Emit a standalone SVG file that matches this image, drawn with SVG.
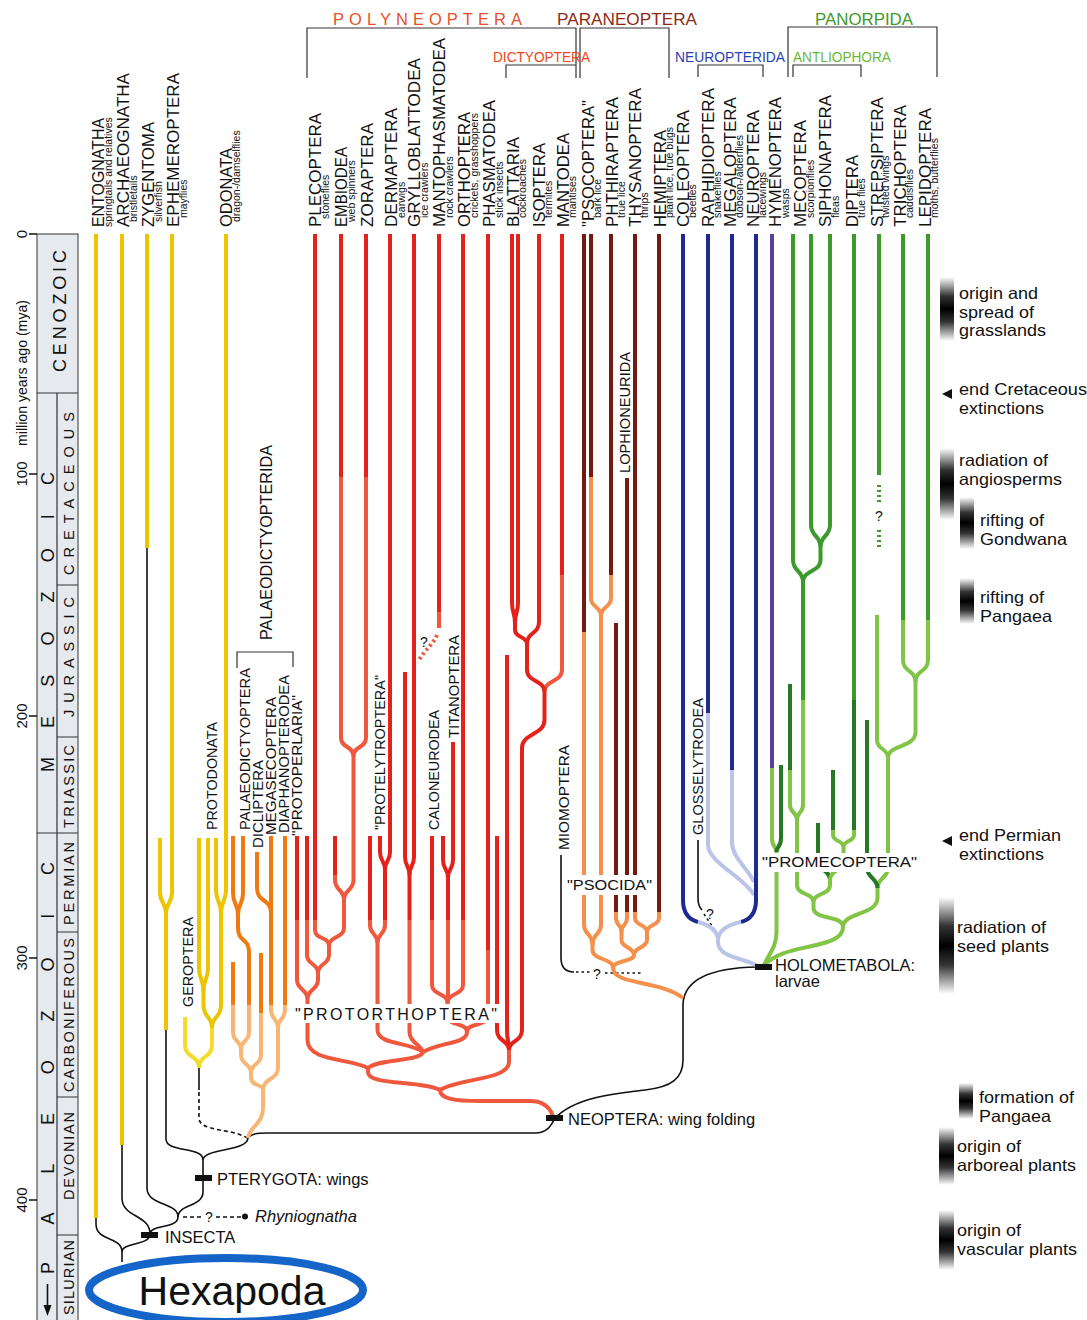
<svg xmlns="http://www.w3.org/2000/svg" width="1087" height="1320" viewBox="0 0 1087 1320">
<defs>
<style>
text{font-family:"Liberation Sans",Arial,sans-serif;fill:#111}
.lab{font-size:16.5px}
.sub{font-size:10.5px}
.in{font-size:15px}
.ann{font-size:16.5px}
.era{font-size:18px}
.per{font-size:14.5px}
.num{font-size:15px}
path{fill:none;stroke-width:4}
.y{stroke:#ecc400}.yl{stroke:#f4dc2c}.o{stroke:#ef7a12}.ol{stroke:#f7b676}
.r{stroke:#e3231b}.rl{stroke:#f0583e}.br{stroke:#741a10}.po{stroke:#f4904c}
.bl{stroke:#1d2a92}.bll{stroke:#b9c4e6}.pu{stroke:#5a3e9c}
.g{stroke:#3c9a2b}.gl{stroke:#82c445}.gd{stroke:#277822}
.k{stroke:#111;stroke-width:1.6}
.kd{stroke:#111;stroke-width:1.6;stroke-dasharray:4 3}
.kdot{stroke:#111;stroke-width:1.6;stroke-dasharray:2.5 3}
.brk{stroke:#333;stroke-width:1.2}
.tri{fill:#111;stroke:none}
.q{font-size:14px}
</style>
<linearGradient id="fade" x1="0" y1="0" x2="0" y2="1">
<stop offset="0" stop-color="#fff"/><stop offset="0.3" stop-color="#333"/><stop offset="0.5" stop-color="#000"/><stop offset="0.7" stop-color="#333"/><stop offset="1" stop-color="#fff"/>
</linearGradient>
</defs>
<rect width="1087" height="1320" fill="#fff"/>

<g id="timescale">
<rect x="37" y="234" width="41" height="1090" fill="#e6e9ee" stroke="#333" stroke-width="1"/>
<path class="brk" d="M57 393V1320M37 393H78M57 585H78M57 737H78M37 833H78M57 932H78M57 1097H78M57 1235H78"/>
<path class="k" d="M29 234H37M29 474H37M29 716H37M29 958H37M29 1200H37" style="stroke-width:1.4"/>
<text class="num" transform="translate(27,234) rotate(-90)" text-anchor="middle">0</text>
<text class="num" transform="translate(27,474) rotate(-90)" text-anchor="middle">100</text>
<text class="num" transform="translate(27,716) rotate(-90)" text-anchor="middle">200</text>
<text class="num" transform="translate(27,958) rotate(-90)" text-anchor="middle">300</text>
<text class="num" transform="translate(27,1200) rotate(-90)" text-anchor="middle">400</text>
<text class="num" transform="translate(27,446) rotate(-90)" textLength="146" lengthAdjust="spacingAndGlyphs">million years ago (mya)</text>
<text class="era" transform="translate(66,372) rotate(-90)" textLength="122" lengthAdjust="spacing">CENOZOIC</text>
<text class="era" transform="translate(54,772) rotate(-90)" textLength="300" lengthAdjust="spacing">MESOZOIC</text>
<text class="era" transform="translate(54,1274) rotate(-90)" textLength="412" lengthAdjust="spacing">PALEOZOIC</text>
<path class="k" d="M47.5 1284V1306"/>
<path class="tri" d="M43.5 1305L51.5 1305L47.5 1316Z"/>
<text class="per" transform="translate(74,575) rotate(-90)" textLength="163" lengthAdjust="spacing">CRETACEOUS</text>
<text class="per" transform="translate(74,717) rotate(-90)" textLength="120" lengthAdjust="spacing">JURASSIC</text>
<text class="per" transform="translate(74,828) rotate(-90)" textLength="83" lengthAdjust="spacing">TRIASSIC</text>
<text class="per" transform="translate(74,925) rotate(-90)" textLength="83" lengthAdjust="spacing">PERMIAN</text>
<text class="per" transform="translate(74,1092) rotate(-90)" textLength="154" lengthAdjust="spacing">CARBONIFEROUS</text>
<text class="per" transform="translate(74,1200) rotate(-90)" textLength="88" lengthAdjust="spacing">DEVONIAN</text>
<text class="per" transform="translate(74,1315) rotate(-90)" textLength="75" lengthAdjust="spacing">SILURIAN</text>
</g>

<g id="groups">
<path class="brk" d="M307 78V28H576V78M506 78V65H576M580 78V28H669V78M698 77V65H763V77M788 77V27H937V77M793 77V65H861V77M237 668V652H293V667"/>
<text x="333" y="25" font-size="16.5" style="fill:#e8502a" textLength="189" lengthAdjust="spacing">POLYNEOPTERA</text>
<text x="557" y="25" font-size="16.5" style="fill:#8c2a14" textLength="140" lengthAdjust="spacingAndGlyphs">PARANEOPTERA</text>
<text x="815" y="25" font-size="16.5" style="fill:#3f9a2a" textLength="98" lengthAdjust="spacingAndGlyphs">PANORPIDA</text>
<text x="493" y="62" font-size="14" style="fill:#ee4420" textLength="97" lengthAdjust="spacingAndGlyphs">DICTYOPTERA</text>
<text x="675" y="62" font-size="14" style="fill:#2a40b0" textLength="110" lengthAdjust="spacingAndGlyphs">NEUROPTERIDA</text>
<text x="793" y="62" font-size="14" style="fill:#6cb83a" textLength="98" lengthAdjust="spacingAndGlyphs">ANTLIOPHORA</text>
</g>

<g id="connectors">
<path class="k" d="M96 1218V1224C96 1242 122 1236 122 1252V1262"/>
<path class="k" d="M122 1252C122 1242 150 1246 150 1234"/>
<path class="k" d="M122 1145V1198C122 1218 150 1214 150 1234"/>
<path class="k" d="M147 548V1188C147 1206 178 1202 178 1217"/>
<path class="k" d="M150 1234C150 1224 178 1229 178 1217"/>
<path class="k" d="M178 1217C178 1204 203 1207 203 1192V1160"/>
<path class="k" d="M203 1160C203 1146 166 1153 166 1139V1030"/>
<path class="k" d="M203 1160C203 1148 247 1152 248 1138"/>
<path class="k" d="M248 1138C251 1134 256 1133 268 1133H535C548 1133 551 1125 555 1118"/>
<path class="k" d="M199 1068V1090"/>
<path class="kd" d="M199 1092V1118C199 1132 232 1128 247 1138"/>
<path class="kd" d="M183 1217H203M216 1217H241"/>
<circle cx="245" cy="1216.5" r="3" fill="#111"/>
<path class="k" d="M555 1118C575 1098 610 1094 645 1090C672 1087 683 1078 683 1060V1004"/>
<path class="k" d="M683 1004C684 985 700 968 757 967"/>
<path class="k" d="M561 855V958C561 968 566 972 574 972"/>
<path class="kdot" d="M576 972H590M605 973H642"/>
<path class="k" d="M698 840V898C698 905 700 908 702 910"/>
<path class="kdot" d="M704 914L716 932"/>

<path class="y" d="M96 234V1218"/>
<path class="y" d="M122 234V1145"/>
<path class="y" d="M147 234V548"/>
<path class="y" d="M172 234V892C172 904 166 902 166 914"/>
<path class="y" d="M160 838V892C160 904 166 902 166 914"/>
<path class="y" d="M166 914V1030"/>
<path class="y" d="M226 234V890C226 902 221 901 221 913"/>
<path class="y" d="M216 838V890C216 902 221 901 221 913"/>
<path class="y" d="M221 913V1005C221 1018 212 1016 212 1028"/>
<path class="y" d="M199 838V968C199 980 203.5 979 203.5 991"/>
<path class="y" d="M208 838V968C208 980 203.5 979 203.5 991"/>
<path class="y" d="M203.5 991V1005C203.5 1018 212 1016 212 1028"/>
<path class="yl" d="M212 1028V1045C212 1058 199 1055 199 1068"/>
<path class="yl" d="M185 1017V1045C185 1058 199 1055 199 1068"/>

<path class="ol" d="M233 1005V1032C233 1042 241 1040 241 1050"/>
<path class="ol" d="M249 1005V1032C249 1042 241 1040 241 1050"/>
<path class="ol" d="M241 1050V1055C241 1065 251 1063 251 1073"/>
<path class="ol" d="M261 1013V1055C261 1065 251 1063 251 1073"/>
<path class="ol" d="M271 1005V1010C271 1020 278 1018 278 1028"/>
<path class="ol" d="M285 1005V1010C285 1020 278 1018 278 1028"/>
<path class="ol" d="M278 1028V1068C278 1080 263 1078 263 1090"/>
<path class="ol" d="M251 1073V1078C251 1086 263 1084 263 1090"/>
<path class="ol" d="M263 1090V1108C263 1124 250 1126 248 1138"/>
<path class="o" d="M233 836V893C233 905 238 903 238 915"/>
<path class="o" d="M243 836V893C243 905 238 903 238 915"/>
<path class="o" d="M238 915V928C238 942 249 938 249 952V1005"/>
<path class="o" d="M257 852V888C257 903 271 898 271 913"/>
<path class="o" d="M271 836V1005"/>
<path class="o" d="M285 836V1005"/>
<path class="o" d="M233 962V1005"/>
<path class="o" d="M261 953V1013"/>

<path class="rl" d="M315 920V930C315 940 329 936 329 946"/>
<path class="rl" d="M341 477V738C341 748 353.5 746 353.5 756"/>
<path class="rl" d="M366 477V738C366 748 353.5 746 353.5 756"/>
<path class="rl" d="M353.5 756V880C353.5 891 344 889 344 900"/>
<path class="rl" d="M335 875V880C335 891 344 889 344 900"/>
<path class="rl" d="M344 900V928C344 938 329 936 329 946"/>
<path class="rl" d="M307 920V955C307 965 318 963 318 973"/>
<path class="rl" d="M329 946V955C329 965 318 963 318 973"/>
<path class="rl" d="M297 920V980C297 990 307.5 989 307.5 999"/>
<path class="rl" d="M318 973V980C318 990 307.5 989 307.5 999"/>
<path class="rl" d="M307.5 999V1040C307.5 1062 350 1058 368 1068"/>
<path class="r" d="M315 234V920"/>
<path class="r" d="M341 234V477"/>
<path class="r" d="M366 234V477"/>
<path class="r" d="M335 836V875"/>
<path class="r" d="M307 836V920"/>
<path class="r" d="M297 836V920"/>

<path class="rl" d="M385 920V925C385 935 377.5 933 377.5 943"/>
<path class="rl" d="M370 920V925C370 935 377.5 933 377.5 943"/>
<path class="rl" d="M377.5 943V1030C377.5 1045 410 1042 423 1052"/>
<path class="r" d="M390 234V852C390 862 385 860 385 870"/>
<path class="r" d="M380 836V852C380 862 385 860 385 870"/>
<path class="r" d="M385 870V920"/>
<path class="r" d="M370 836V920"/>

<path class="rl" d="M409.5 920V1032C409.5 1042 420 1044 423 1052"/>
<path class="r" d="M414 234V857C414 867 409.5 865 409.5 875"/>
<path class="r" d="M405 672V857C405 867 409.5 865 409.5 875"/>
<path class="r" d="M409.5 875V920"/>
<path class="r" d="M439 234V612"/>
<path class="rl" d="M439 612V628"/>
<path class="rl" d="M437 635C433 645 424 650 418 662" style="stroke-dasharray:2.5 3"/>

<path class="rl" d="M432 920V985C432 995 447.5 993 447.5 1003"/>
<path class="rl" d="M448 920V1003"/>
<path class="rl" d="M463 920V985C463 995 447.5 993 447.5 1003"/>
<path class="rl" d="M447.5 1003V1015C447.5 1027 467 1022 467 1032"/>
<path class="rl" d="M488 950V1015C488 1027 467 1022 467 1032"/>
<path class="rl" d="M467 1032C467 1044 440 1042 423 1052"/>
<path class="rl" d="M423 1052C420 1062 380 1058 368 1068"/>
<path class="rl" d="M368 1068V1072C368 1086 420 1080 440 1090"/>
<path class="rl" d="M509 1050V1062C509 1080 460 1078 440 1090"/>
<path class="rl" d="M440 1090C440 1099 455 1101 480 1101H530C543 1101 550 1108 553 1116"/>
<path class="r" d="M432 836V920"/>
<path class="r" d="M443 836V860C443 870 448 868 448 878"/>
<path class="r" d="M453 742V860C453 870 448 868 448 878"/>
<path class="r" d="M448 878V920"/>
<path class="r" d="M463 234V920"/>
<path class="r" d="M488 234V950"/>

<path class="rl" d="M562 575V670C562 682 544.5 680 544.5 692"/>
<path class="r" d="M512 234V603C512 613 515 613 515 623"/>
<path class="r" d="M518 234V603C518 613 515 613 515 623"/>
<path class="r" d="M539 234V622C539 634 527 632 527 644"/>
<path class="r" d="M515 623V630C515 638 527 636 527 644"/>
<path class="r" d="M562 234V575"/>
<path class="r" d="M527 644V670C527 682 544.5 680 544.5 692"/>
<path class="r" d="M544.5 692V720C544.5 735 522 733 522 748V1030C522 1042 509 1040 509 1050"/>
<path class="r" d="M507 655V1030C507 1040 509 1042 509 1050"/>
<path class="r" d="M497 836V1030C497 1042 509 1040 509 1050"/>

<path class="po" d="M584 632V925C584 935 592.5 933 592.5 945"/>
<path class="po" d="M591 477V598C591 608 601 606 601 616"/>
<path class="po" d="M611 575V598C611 608 601 606 601 616"/>
<path class="po" d="M601 616V925C601 935 592.5 933 592.5 945"/>
<path class="br" d="M584 234V632"/>
<path class="br" d="M591 234V477"/>
<path class="br" d="M611 234V575"/>
<path class="br" d="M616 623V912"/>
<path class="br" d="M627 478V912"/>
<path class="br" d="M635 234V912"/>
<path class="br" d="M659 234V912"/>
<path class="po" d="M616 912V918C616 926 621.5 924 621.5 932"/>
<path class="po" d="M627 912V918C627 926 621.5 924 621.5 932"/>
<path class="po" d="M635 912V918C635 926 647 924 647 932"/>
<path class="po" d="M659 912V918C659 926 647 924 647 932"/>
<path class="po" d="M621.5 932V940C621.5 948 634 947 634 955"/>
<path class="po" d="M647 932V940C647 948 634 947 634 955"/>
<path class="po" d="M592.5 945V950C592.5 960 613 958 613 968"/>
<path class="po" d="M634 955C634 962 613 960 613 968"/>
<path class="po" d="M613 968C613 985 660 980 683 998"/>

<path class="bll" d="M708 713V845C708 862 745 878 754 895"/>
<path class="bll" d="M732 770V842C732 858 748 868 754 882"/>
<path class="bl" d="M708 234V713"/>
<path class="bl" d="M732 234V770"/>
<path class="bl" d="M683 234V900Q683 918 698 922"/>
<path class="bl" d="M756 234V900Q756 918 741 922"/>
<path class="bll" d="M698 922Q715 926 718 938"/>
<path class="bll" d="M741 922Q721 926 718 938"/>
<path class="bll" d="M718 938V942C718 958 745 958 758 966"/>

<path class="pu" d="M772 234V768"/>
<path class="gl" d="M772 768V838C772 848 776.5 846 776.5 852"/>
<path class="gd" d="M781 765V838C781 848 776.5 846 776.5 852"/>
<path class="gl" d="M776.5 852V932C776.5 948 768 955 764 965"/>
<path class="gl" d="M764 965C778 952 795 950 812 946C830 942 843 938 843 927"/>
<path class="g" d="M793 234V560C793 572 803 570 803 582"/>
<path class="g" d="M811 234V525C811 537 820.5 535 820.5 547"/>
<path class="g" d="M830 234V525C830 537 820.5 535 820.5 547"/>
<path class="g" d="M820.5 547V560C820.5 572 803 570 803 582"/>
<path class="g" d="M803 582V700"/>
<path class="gl" d="M803 700V805C803 813 797 812 797 820"/>
<path class="gd" d="M790 684V770"/>
<path class="gl" d="M790 770V805C790 813 797 812 797 820"/>
<path class="gl" d="M797 820V885C797 895 813.5 893 813.5 902"/>
<path class="gd" d="M818 823V862C818 870 830 870 830 880"/>
<path class="gd" d="M833 770V830"/>
<path class="gl" d="M833 830V835C833 842 843.5 840 843.5 847"/>
<path class="g" d="M854 234V700"/>
<path class="gd" d="M854 700V830"/>
<path class="gl" d="M854 830V835C854 842 843.5 840 843.5 847"/>
<path class="gl" d="M843.5 847V862C843.5 870 830 870 830 880"/>
<path class="gl" d="M830 880V885C830 895 813.5 893 813.5 902"/>
<path class="gl" d="M813.5 902V908C813.5 920 843 915 843 927"/>
<path class="g" d="M903 234V620"/>
<path class="gl" d="M903 620V660C903 672 915.5 670 915.5 682"/>
<path class="g" d="M928 234V620"/>
<path class="gl" d="M928 620V660C928 672 915.5 670 915.5 682"/>
<path class="gl" d="M915.5 682V732C915.5 748 888 744 888 758"/>
<path class="gl" d="M877 615V740C877 750 888 748 888 758"/>
<path class="gl" d="M888 758V868C888 878 877.5 878 877.5 888"/>
<path class="gd" d="M867 720V868C867 878 877.5 878 877.5 888"/>
<path class="gl" d="M877.5 888V898C877.5 915 843 912 843 927"/>
<path class="g" d="M879 234V475"/>
<path class="g" d="M879 485V502M879 530V548" style="stroke-dasharray:2 3"/>
</g>

<g id="markers">
<rect x="141" y="1232" width="17" height="6" fill="#111"/>
<rect x="195" y="1175" width="17" height="6" fill="#111"/>
<rect x="546" y="1115" width="17" height="6" fill="#111"/>
<rect x="755" y="964" width="17" height="6" fill="#111"/>
<text x="165" y="1243" class="lab">INSECTA</text>
<text x="217" y="1185" class="lab">PTERYGOTA: wings</text>
<text x="568" y="1125" class="lab">NEOPTERA: wing folding</text>
<text x="775" y="971" class="lab">HOLOMETABOLA:</text>
<text x="775" y="987" class="lab">larvae</text>
<text x="255" y="1222" class="lab" font-style="italic">Rhyniognatha</text>
<text x="205" y="1222" class="q">?</text>
<text x="420" y="647" class="q">?</text>
<text x="593" y="979" class="q">?</text>
<text x="706" y="919" class="q">?</text>
<text x="875" y="521" class="q">?</text>
</g>

<g id="inner-labels">
<rect x="293" y="1004" width="207" height="19" fill="#fff"/>
<text x="295" y="1020" font-size="16" textLength="202" lengthAdjust="spacing">"PROTORTHOPTERA"</text>
<rect x="565" y="875" width="90" height="20" fill="#fff"/>
<text x="567" y="890" class="in" textLength="85" lengthAdjust="spacingAndGlyphs">"PSOCIDA"</text>
<rect x="760" y="853" width="160" height="19" fill="#fff"/>
<text x="762" y="867" class="in" textLength="155" lengthAdjust="spacingAndGlyphs">"PROMECOPTERA"</text>
<text class="in" transform="translate(217,830) rotate(-90)" textLength="108" lengthAdjust="spacingAndGlyphs">PROTODONATA</text>
<text class="in" transform="translate(193,1007) rotate(-90)" textLength="90" lengthAdjust="spacingAndGlyphs">GEROPTERA</text>
<text class="in" transform="translate(250,830) rotate(-90)" textLength="162" lengthAdjust="spacingAndGlyphs">PALAEODICTYOPTERA</text>
<text class="in" transform="translate(263,848) rotate(-90)" textLength="88" lengthAdjust="spacingAndGlyphs">DICLIPTERA</text>
<text class="in" transform="translate(276,835) rotate(-90)" textLength="138" lengthAdjust="spacingAndGlyphs">MEGASECOPTERA</text>
<text class="in" transform="translate(289,833) rotate(-90)" textLength="158" lengthAdjust="spacingAndGlyphs">DIAPHANOPTERODEA</text>
<text class="in" transform="translate(302,836) rotate(-90)" textLength="141" lengthAdjust="spacingAndGlyphs">"PROTOPERLARIA"</text>
<text class="lab" transform="translate(272,640) rotate(-90)" textLength="195" lengthAdjust="spacingAndGlyphs">PALAEODICTYOPTERIDA</text>
<text class="in" transform="translate(385,830) rotate(-90)" textLength="155" lengthAdjust="spacingAndGlyphs">"PROTELYTROPTERA"</text>
<text class="in" transform="translate(439,830) rotate(-90)" textLength="120" lengthAdjust="spacingAndGlyphs">CALONEURODEA</text>
<text class="in" transform="translate(459,738) rotate(-90)" textLength="103" lengthAdjust="spacingAndGlyphs">TITANOPTERA</text>
<text class="in" transform="translate(569,850) rotate(-90)" textLength="105" lengthAdjust="spacingAndGlyphs">MIOMOPTERA</text>
<text class="in" transform="translate(630,473) rotate(-90)" textLength="121" lengthAdjust="spacingAndGlyphs">LOPHIONEURIDA</text>
<text class="in" transform="translate(703,835) rotate(-90)" textLength="137" lengthAdjust="spacingAndGlyphs">GLOSSELYTRODEA</text>
</g>

<g id="taxa">
<g id="n-entognatha"><text class="lab" transform="translate(104,227) rotate(-90)" textLength="109" lengthAdjust="spacingAndGlyphs">ENTOGNATHA</text><text class="sub" transform="translate(111.5,227) rotate(-90)">springtails and relatives</text></g>
<g id="n-archaeognatha"><text class="lab" transform="translate(129,227) rotate(-90)" textLength="154" lengthAdjust="spacingAndGlyphs">ARCHAEOGNATHA</text><text class="sub" transform="translate(136.5,222) rotate(-90)">bristletails</text></g>
<g id="n-zygentoma"><text class="lab" transform="translate(154,227) rotate(-90)" textLength="105" lengthAdjust="spacingAndGlyphs">ZYGENTOMA</text><text class="sub" transform="translate(161.5,222) rotate(-90)">silverfish</text></g>
<g id="n-ephemeroptera"><text class="lab" transform="translate(179,227) rotate(-90)" textLength="154" lengthAdjust="spacingAndGlyphs">EPHEMEROPTERA</text><text class="sub" transform="translate(186.5,218) rotate(-90)">mayflies</text></g>
<g id="n-odonata"><text class="lab" transform="translate(232,227) rotate(-90)" textLength="79" lengthAdjust="spacingAndGlyphs">ODONATA</text><text class="sub" transform="translate(239.5,222) rotate(-90)">dragon-/damselflies</text></g>
<g id="n-plecoptera"><text class="lab" transform="translate(321,227) rotate(-90)" textLength="114" lengthAdjust="spacingAndGlyphs">PLECOPTERA</text><text class="sub" transform="translate(328.5,219) rotate(-90)">stoneflies</text></g>
<g id="n-embiodea"><text class="lab" transform="translate(347,227) rotate(-90)" textLength="80" lengthAdjust="spacingAndGlyphs">EMBIODEA</text><text class="sub" transform="translate(354.5,222) rotate(-90)">web spinners</text></g>
<g id="n-zoraptera"><text class="lab" transform="translate(373,227) rotate(-90)" textLength="104" lengthAdjust="spacingAndGlyphs">ZORAPTERA</text></g>
<g id="n-dermaptera"><text class="lab" transform="translate(397,227) rotate(-90)" textLength="119" lengthAdjust="spacingAndGlyphs">DERMAPTERA</text><text class="sub" transform="translate(404.5,218) rotate(-90)">earwigs</text></g>
<g id="n-grylloblattodea"><text class="lab" transform="translate(420,227) rotate(-90)" textLength="169" lengthAdjust="spacingAndGlyphs">GRYLLOBLATTODEA</text><text class="sub" transform="translate(427.5,218) rotate(-90)">ice crawlers</text></g>
<g id="n-mantophasmatodea"><text class="lab" transform="translate(445,227) rotate(-90)" textLength="189" lengthAdjust="spacingAndGlyphs">MANTOPHASMATODEA</text><text class="sub" transform="translate(452.5,218) rotate(-90)">rock crawlers</text></g>
<g id="n-orthoptera"><text class="lab" transform="translate(470,227) rotate(-90)" textLength="115" lengthAdjust="spacingAndGlyphs">ORTHOPTERA</text><text class="sub" transform="translate(477.5,218) rotate(-90)">crickets, grasshoppers</text></g>
<g id="n-phasmatodea"><text class="lab" transform="translate(495,227) rotate(-90)" textLength="127" lengthAdjust="spacingAndGlyphs">PHASMATODEA</text><text class="sub" transform="translate(502.5,218) rotate(-90)">stick insects</text></g>
<g id="n-blattaria"><text class="lab" transform="translate(519,227) rotate(-90)" textLength="90" lengthAdjust="spacingAndGlyphs">BLATTARIA</text><text class="sub" transform="translate(526,218) rotate(-90)">cockroaches</text></g>
<g id="n-isoptera"><text class="lab" transform="translate(545,227) rotate(-90)" textLength="84" lengthAdjust="spacingAndGlyphs">ISOPTERA</text><text class="sub" transform="translate(551.5,218) rotate(-90)">termites</text></g>
<g id="n-mantodea"><text class="lab" transform="translate(569,227) rotate(-90)" textLength="94" lengthAdjust="spacingAndGlyphs">MANTODEA</text><text class="sub" transform="translate(575.5,218) rotate(-90)">mantises</text></g>
<g id="n-psocoptera"><text class="lab" transform="translate(594,227) rotate(-90)" textLength="127" lengthAdjust="spacingAndGlyphs">"PSOCOPTERA"</text><text class="sub" transform="translate(600.5,218) rotate(-90)">bark lice</text></g>
<g id="n-phthiraptera"><text class="lab" transform="translate(618,227) rotate(-90)" textLength="130" lengthAdjust="spacingAndGlyphs">PHTHIRAPTERA</text><text class="sub" transform="translate(624.5,218) rotate(-90)">true lice</text></g>
<g id="n-thysanoptera"><text class="lab" transform="translate(641,227) rotate(-90)" textLength="139" lengthAdjust="spacingAndGlyphs">THYSANOPTERA</text><text class="sub" transform="translate(648,218) rotate(-90)">thrips</text></g>
<g id="n-hemiptera"><text class="lab" transform="translate(666,227) rotate(-90)" textLength="97" lengthAdjust="spacingAndGlyphs">HEMIPTERA</text><text class="sub" transform="translate(673,218) rotate(-90)">plant lice, true bugs</text></g>
<g id="n-coleoptera"><text class="lab" transform="translate(689,227) rotate(-90)" textLength="117" lengthAdjust="spacingAndGlyphs">COLEOPTERA</text><text class="sub" transform="translate(696,218) rotate(-90)">beetles</text></g>
<g id="n-raphidioptera"><text class="lab" transform="translate(714,227) rotate(-90)" textLength="139" lengthAdjust="spacingAndGlyphs">RAPHIDIOPTERA</text><text class="sub" transform="translate(720.5,218) rotate(-90)">snakeflies</text></g>
<g id="n-megaloptera"><text class="lab" transform="translate(736,227) rotate(-90)" textLength="130" lengthAdjust="spacingAndGlyphs">MEGALOPTERA</text><text class="sub" transform="translate(742.5,218) rotate(-90)">dobson-/alderflies</text></g>
<g id="n-neuroptera"><text class="lab" transform="translate(759,227) rotate(-90)" textLength="117" lengthAdjust="spacingAndGlyphs">NEUROPTERA</text><text class="sub" transform="translate(765.5,218) rotate(-90)">lacewings</text></g>
<g id="n-hymenoptera"><text class="lab" transform="translate(781,227) rotate(-90)" textLength="130" lengthAdjust="spacingAndGlyphs">HYMENOPTERA</text><text class="sub" transform="translate(788.5,218) rotate(-90)">wasps</text></g>
<g id="n-mecoptera"><text class="lab" transform="translate(806,227) rotate(-90)" textLength="107" lengthAdjust="spacingAndGlyphs">MECOPTERA</text><text class="sub" transform="translate(813.5,218) rotate(-90)">scorpionflies</text></g>
<g id="n-siphonaptera"><text class="lab" transform="translate(831,227) rotate(-90)" textLength="132" lengthAdjust="spacingAndGlyphs">SIPHONAPTERA</text><text class="sub" transform="translate(838.5,218) rotate(-90)">fleas</text></g>
<g id="n-diptera"><text class="lab" transform="translate(858,227) rotate(-90)" textLength="72" lengthAdjust="spacingAndGlyphs">DIPTERA</text><text class="sub" transform="translate(865,218) rotate(-90)">true flies</text></g>
<g id="n-strepsiptera"><text class="lab" transform="translate(883,227) rotate(-90)" textLength="130" lengthAdjust="spacingAndGlyphs">STREPSIPTERA</text><text class="sub" transform="translate(888.5,218) rotate(-90)">twisted wings</text></g>
<g id="n-trichoptera"><text class="lab" transform="translate(906,227) rotate(-90)" textLength="122" lengthAdjust="spacingAndGlyphs">TRICHOPTERA</text><text class="sub" transform="translate(912.5,218) rotate(-90)">caddisflies</text></g>
<g id="n-lepidoptera"><text class="lab" transform="translate(931,227) rotate(-90)" textLength="119" lengthAdjust="spacingAndGlyphs">LEPIDOPTERA</text><text class="sub" transform="translate(937.5,218) rotate(-90)">moths, butterflies</text></g>
</g>

<g id="events">
<rect x="940" y="277" width="14" height="64" fill="url(#fade)"/>
<text class="ann" x="959" y="299" textLength="79" lengthAdjust="spacingAndGlyphs">origin and</text>
<text class="ann" x="959" y="317.5" textLength="75" lengthAdjust="spacingAndGlyphs">spread of</text>
<text class="ann" x="959" y="336" textLength="87" lengthAdjust="spacingAndGlyphs">grasslands</text>
<path class="tri" d="M952 389L942 394L952 399Z"/>
<text class="ann" x="959" y="395" textLength="128" lengthAdjust="spacingAndGlyphs">end Cretaceous</text>
<text class="ann" x="959" y="413.5" textLength="85" lengthAdjust="spacingAndGlyphs">extinctions</text>
<rect x="940" y="448" width="14" height="72" fill="url(#fade)"/>
<text class="ann" x="959" y="466" textLength="89" lengthAdjust="spacingAndGlyphs">radiation of</text>
<text class="ann" x="959" y="484.5" textLength="103" lengthAdjust="spacingAndGlyphs">angiosperms</text>
<rect x="960" y="497" width="14" height="52" fill="url(#fade)"/>
<text class="ann" x="980" y="526" textLength="64" lengthAdjust="spacingAndGlyphs">rifting of</text>
<text class="ann" x="980" y="544.5" textLength="87" lengthAdjust="spacingAndGlyphs">Gondwana</text>
<rect x="960" y="578" width="14" height="46" fill="url(#fade)"/>
<text class="ann" x="980" y="603" textLength="64" lengthAdjust="spacingAndGlyphs">rifting of</text>
<text class="ann" x="980" y="621.5" textLength="72" lengthAdjust="spacingAndGlyphs">Pangaea</text>
<path class="tri" d="M952 836L942 841L952 846Z"/>
<text class="ann" x="959" y="841" textLength="102" lengthAdjust="spacingAndGlyphs">end Permian</text>
<text class="ann" x="959" y="859.5" textLength="85" lengthAdjust="spacingAndGlyphs">extinctions</text>
<rect x="939" y="897" width="15" height="97" fill="url(#fade)"/>
<text class="ann" x="957" y="933" textLength="89" lengthAdjust="spacingAndGlyphs">radiation of</text>
<text class="ann" x="957" y="951.5" textLength="92" lengthAdjust="spacingAndGlyphs">seed plants</text>
<rect x="959" y="1083" width="14" height="36" fill="url(#fade)"/>
<text class="ann" x="979" y="1103" textLength="95" lengthAdjust="spacingAndGlyphs">formation of</text>
<text class="ann" x="979" y="1121.5" textLength="72" lengthAdjust="spacingAndGlyphs">Pangaea</text>
<rect x="939" y="1127" width="15" height="58" fill="url(#fade)"/>
<text class="ann" x="957" y="1152" textLength="64" lengthAdjust="spacingAndGlyphs">origin of</text>
<text class="ann" x="957" y="1170.5" textLength="119" lengthAdjust="spacingAndGlyphs">arboreal plants</text>
<rect x="939" y="1210" width="15" height="60" fill="url(#fade)"/>
<text class="ann" x="957" y="1236" textLength="64" lengthAdjust="spacingAndGlyphs">origin of</text>
<text class="ann" x="957" y="1254.5" textLength="120" lengthAdjust="spacingAndGlyphs">vascular plants</text>
</g>

<g id="hexapoda">
<ellipse cx="226" cy="1290" rx="137" ry="32" fill="#fff" stroke="#1565c8" stroke-width="8"/>
<text x="232" y="1305" font-size="41" text-anchor="middle">Hexapoda</text>
</g>
</svg>
